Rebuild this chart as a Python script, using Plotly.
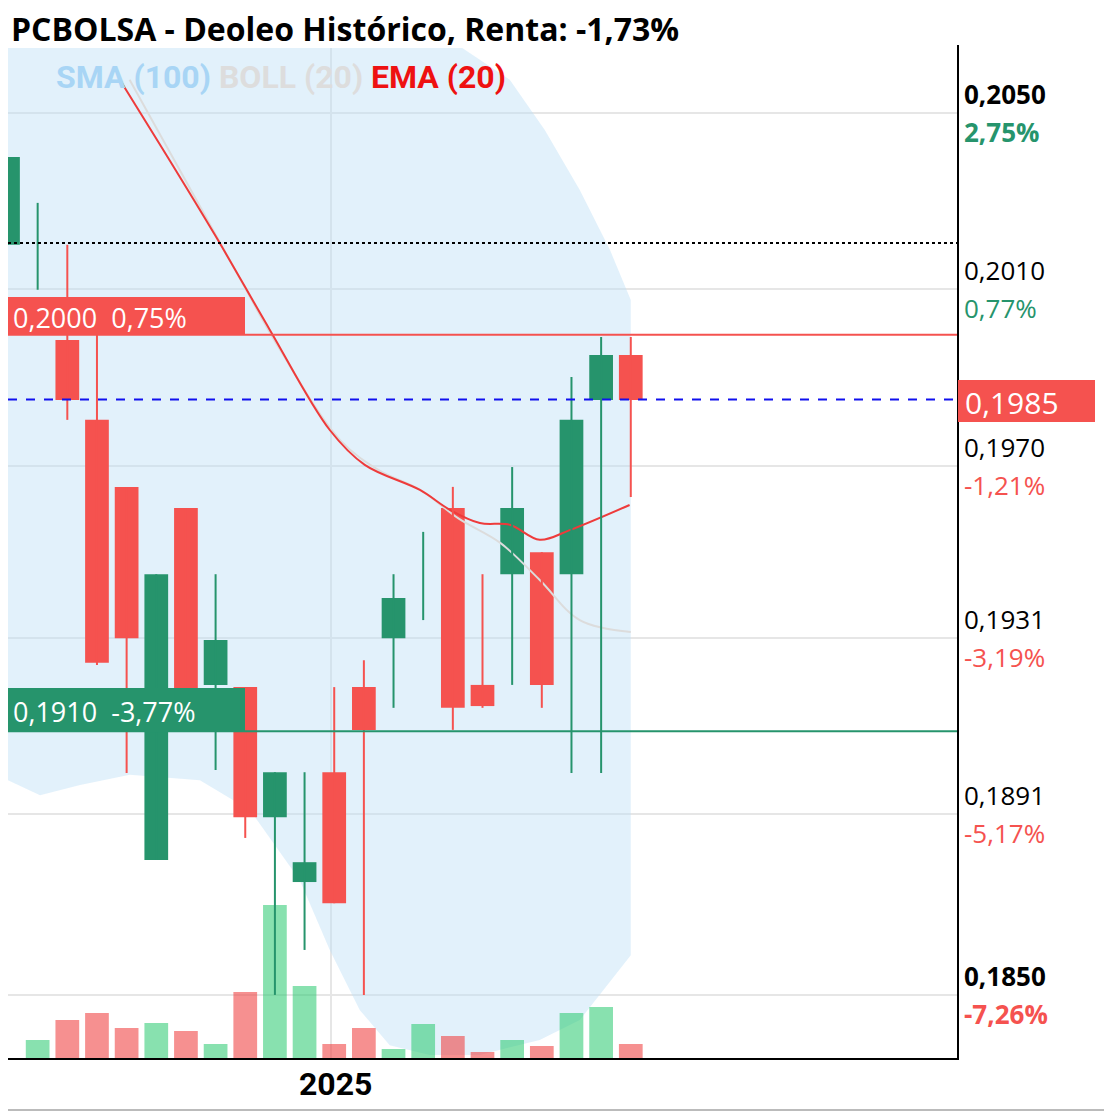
import plotly.graph_objects as go

# ---- data ----
idx = list(range(22))
opens  = [.20201,.20201,.19985,.19804,.19652,.18806,.19604,.19203,.19198,.18903,.18756,.19005,.19198,.19309,.19436,.19604,.19203,.19454,.19504,.19454,.19849,.19951]
highs  = [.20400,.20296,.20201,.19997,.19652,.19454,.19604,.19454,.19198,.19005,.19005,.19198,.19259,.19454,.19550,.19652,.19454,.19697,.19504,.19901,.19992,.19992]
lows   = [.20201,.20099,.19804,.19248,.19003,.18806,.19191,.19010,.18856,.18500,.18602,.18708,.18500,.19151,.19350,.19101,.19151,.19203,.19151,.19003,.19003,.19629]
closes = [.20400,.20205,.19849,.19253,.19309,.19454,.19191,.19305,.18903,.19005,.18801,.18708,.19101,.19400,.19441,.19151,.19155,.19604,.19203,.19804,.19951,.19849]
volume = [0,18,38,45,30,35,27,14,66,153,72,14,30,9,34,22,6,18,12,45,51,14]

ema_x = [3.77,5.2,6.98,8.83,10.85,12.03,13.89,14.9,15.91,16.92,17.93,18.94,20.96]
ema_y = [.20575,.20420,.20223,.20008,.19781,.19702,.19645,.19600,.19570,.19566,.19532,.19554,.19611]
sma_x = [4.1,7.2,9.2,11.2,12.5,13.9,15.2,16.6,17.93,19.28,21.0]
sma_y = [.20575,.20200,.19960,.19758,.19690,.19645,.19580,.19525,.19441,.19350,.19323]
bu_x = [0,14.9,16.92,18.1,19.28,20.3,21]
bu_y = [.20666,.20666,.20575,.20461,.20325,.20189,.20076]
bl_x = [0,1.08,2.43,4.11,6.47,8.16,9.84,10.85,11.86,12.87,14.22,15.91,17.93,19.28,21]
bl_y = [.18987,.18953,.18976,.18999,.18987,.18919,.18760,.18602,.18466,.18386,.18364,.18364,.18398,.18443,.18590]

last_price = 0.1985
max_line, max_txt = 0.19997, "0,2000  0,75%"
min_line, min_txt = 0.19098, "0,1910  -3,77%"
ref_line = 0.20205
ticks = [(0.2050,"0,2050","2,75%",True),(0.2010,"0,2010","0,77%",False),(0.1970,"0,1970","-1,21%",False),
         (0.1931,"0,1931","-3,19%",False),(0.1891,"0,1891","-5,17%",False),(0.1850,"0,1850","-7,26%",True)]

O = 8  # page body offset
W, H = 1112 - O, 1118 - O
L, R, T, B = 8, 957, 45, 1058  # reference pixel coords
def px(x): return (x - L) / (R - L)
def py(y): return (B - y) / (B - T)
YR = [0.18357, 0.20654]
def yp(p): return B - (p - YR[0]) / (YR[1] - YR[0]) * (B - T)

GREEN, RED = "#26946c", "#f5524f"
cols = [GREEN if c >= o else RED for o, c in zip(opens, closes)]
fig = go.Figure()
fig.add_trace(go.Scatter(x=bu_x + bl_x[::-1], y=bu_y + bl_y[::-1], fill="toself",
                         fillcolor="rgba(190,225,247,0.45)", line=dict(width=0), hoverinfo="skip"))
fig.add_trace(go.Bar(x=idx, y=volume, yaxis="y2", width=0.8,
                     marker=dict(color=["rgba(38,200,110,0.55)" if c == GREEN else "rgba(240,70,70,0.6)" for c in cols], line=dict(width=0))))
fig.add_trace(go.Scatter(x=sma_x, y=sma_y, yaxis="y3", mode="lines", line=dict(color="#dcdcdc", width=2, shape="spline")))
fig.add_trace(go.Scatter(x=ema_x, y=ema_y, yaxis="y3", mode="lines", line=dict(color="#ee3b3b", width=2, shape="spline")))
for col in (GREEN, RED):
    wx, wy = [], []
    for i in idx:
        if cols[i] == col:
            wx += [i, i, None]; wy += [lows[i], highs[i], None]
    fig.add_trace(go.Scatter(x=wx, y=wy, yaxis="y3", mode="lines", line=dict(color=col, width=2)))
fig.add_trace(go.Bar(x=idx, base=[min(o, c) for o, c in zip(opens, closes)],
                     y=[abs(c - o) if abs(c - o) > 0.0001 else 0 for o, c in zip(opens, closes)],
                     yaxis="y3", width=0.8, marker=dict(color=cols, line=dict(width=0))))

shapes = [
    dict(type="line", xref="paper", yref="y3", x0=0, x1=1, y0=ref_line, y1=ref_line, line=dict(color="black", width=2, dash="dot")),
    dict(type="line", xref="paper", yref="y3", x0=0, x1=1, y0=max_line, y1=max_line, line=dict(color=RED, width=2)),
    dict(type="line", xref="paper", yref="y3", x0=0, x1=1, y0=last_price, y1=last_price, line=dict(color="#1010ee", width=2, dash="dash")),
    dict(type="line", xref="paper", yref="y3", x0=0, x1=1, y0=min_line, y1=min_line, line=dict(color=GREEN, width=2)),
    dict(type="line", xref="paper", yref="paper", x0=px(L), x1=px(1108), y0=py(1110), y1=py(1110), line=dict(color="#bbbbbb", width=2)),
    dict(type="line", xref="paper", yref="paper", x0=px(1108), x1=px(1108), y0=py(1110), y1=py(8), line=dict(color="#cccccc", width=2)),
    dict(type="rect", xref="paper", yref="paper", x0=px(L), x1=px(245), y0=py(335), y1=py(297), fillcolor=RED, line=dict(width=0)),
    dict(type="rect", xref="paper", yref="paper", x0=px(L), x1=px(245), y0=py(731), y1=py(688), fillcolor=GREEN, line=dict(width=0)),
    dict(type="rect", xref="paper", yref="paper", x0=px(958), x1=px(1095), y0=py(422), y1=py(380), fillcolor=RED, line=dict(width=0)),
    dict(type="rect", xref="paper", yref="paper", x0=px(8), x1=px(957), y0=py(48), y1=py(8), fillcolor="white", line=dict(width=0)),
]
ann = [
    dict(x=px(10), y=py(29), text="<b>PCBOLSA - Deoleo Histórico, Renta: -1,73%</b>", font=dict(size=32, color="black", family="Open Sans")),
    dict(x=px(55), y=py(77), text="<b><span style='color:#a8d5f5'>SMA (100)</span> <span style='color:#dddddd'>BOLL (20)</span> <span style='color:#ee1111'>EMA (20)</span></b>", font=dict(size=32, family="Roboto")),
    dict(x=px(12), y=py(317), text=max_txt, font=dict(size=27, color="white", family="Open Sans")),
    dict(x=px(12), y=py(711), text=min_txt, font=dict(size=27, color="white", family="Open Sans")),
    dict(x=px(964), y=py(402), text="0,1985", font=dict(size=30, color="white", family="Open Sans")),
    dict(x=px(335), y=py(1084), text="<b>2025</b>", xanchor="center", font=dict(size=32, color="black", family="Roboto")),
]
for p, t1, t2, bold in ticks:
    y = yp(p)
    c2 = GREEN if not t2.startswith("-") else RED
    b = (lambda s: f"<b>{s}</b>") if bold else (lambda s: s)
    ann.append(dict(x=px(963), y=py(y), yanchor="bottom", text=b(t1), font=dict(size=26, color="black", family="Open Sans")))
    ann.append(dict(x=px(963), y=py(y), yanchor="top", text=b(t2), font=dict(size=26, color=c2, family="Open Sans")))
for a in ann:
    a.update(xref="paper", yref="paper", showarrow=False, borderpad=0,
             xanchor=a.get("xanchor", "left"), yanchor=a.get("yanchor", "middle"))

fig.update_layout(
    width=W, height=H, margin=dict(l=L - O, r=1112 - R, t=T - O, b=1118 - B),
    paper_bgcolor="white", plot_bgcolor="white", showlegend=False,
    xaxis=dict(range=[0, 32], tickvals=[10.9], ticktext=[""],
               showgrid=True, gridcolor="#e6e6e6", gridwidth=2, zeroline=False,
               showline=True, linecolor="black", linewidth=2),
    yaxis=dict(range=YR, side="right", tickvals=[t[0] for t in ticks], showticklabels=False,
               showgrid=True, gridcolor="#e6e6e6", gridwidth=2, zeroline=False,
               showline=True, linecolor="black", linewidth=2),
    yaxis2=dict(range=[0, B - T], overlaying="y", visible=False),
    yaxis3=dict(range=YR, overlaying="y", visible=False),
    shapes=shapes, annotations=ann, bargap=0.2, barmode="overlay",
)
fig.write_html("out.html")
